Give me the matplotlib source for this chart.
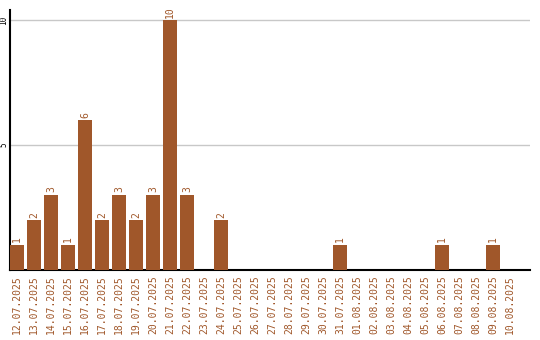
import matplotlib
matplotlib.use('Agg')
import matplotlib.pyplot as plt
import numpy as np

dates = ['12.07.2025', '13.07.2025', '14.07.2025', '15.07.2025', '16.07.2025',
         '17.07.2025', '18.07.2025', '19.07.2025', '20.07.2025', '21.07.2025',
         '22.07.2025', '23.07.2025', '24.07.2025', '25.07.2025', '26.07.2025',
         '27.07.2025', '28.07.2025', '29.07.2025', '30.07.2025', '31.07.2025',
         '01.08.2025', '02.08.2025', '03.08.2025', '04.08.2025', '05.08.2025',
         '06.08.2025', '07.08.2025', '08.08.2025', '09.08.2025', '10.08.2025']
counts = [1, 2, 3, 1, 6, 2, 3, 2, 3, 10, 3, 0, 2, 0, 0,
          0, 0, 0, 0, 1, 0, 0, 0, 0, 0, 1, 0, 0, 1, 0]
yticks = [5, 10]

brown = '#a0572a'
font = 'DejaVu Sans Mono'

fig = plt.figure(figsize=(5.4, 3.4), dpi=100)
ax = fig.add_axes([10 / 540, 70 / 340, 520 / 540, 260 / 340])

x = np.arange(len(dates))
w = 14 / 17
ax.bar(x, counts, width=w, align='edge', color=brown, zorder=3)

for xi, c in zip(x, counts):
    if c > 0:
        ax.text(xi + w / 2, c + 0.1, str(c), rotation=90, ha='center', va='bottom',
                color=brown, fontsize=7, family=font, zorder=4)

ax.set_xlim(0, 520 / 17)
ax.set_ylim(0, 10.4)
ax.set_xticks(x + w / 2)
ax.set_xticklabels(dates, rotation=90, color=brown, fontsize=7, family=font)
ax.set_yticks(yticks)
ax.set_yticklabels([str(t) for t in yticks], rotation=90, va='center',
                   fontsize=5.5, family=font)
ax.tick_params(axis='x', length=0, pad=4)
ax.tick_params(axis='y', length=0, pad=1)
ax.grid(axis='y', color='#c8c8c8', linewidth=1, zorder=0)

for s in ['top', 'right']:
    ax.spines[s].set_visible(False)
ax.spines['left'].set_linewidth(1.5)
ax.spines['bottom'].set_linewidth(1.5)

fig.savefig('out.png', dpi=100)
